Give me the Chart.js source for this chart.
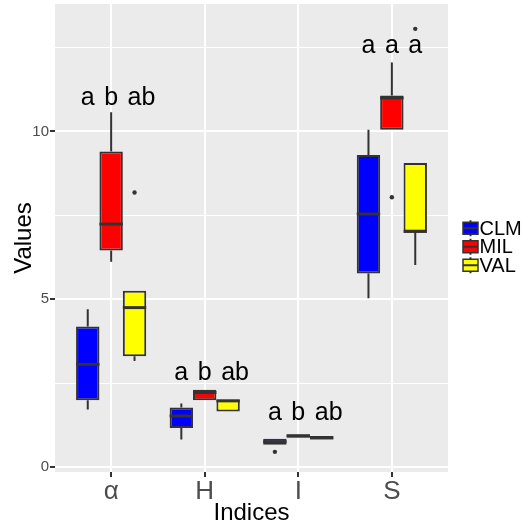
<!DOCTYPE html>
<html>
<head>
<meta charset="utf-8">
<script src="https://cdn.jsdelivr.net/npm/chart.js@4.4.1/dist/chart.umd.min.js"></script>
<style>
  html, body { margin: 0; padding: 0; background: #fff; }
  canvas { display: block; }
</style>
</head>
<body>
<canvas id="box-chart" width="522" height="525"></canvas>
<script>
var categories = ['α', 'H', 'I', 'S'];
var seriesNames = ['CLM', 'MIL', 'VAL'];
var seriesColors = ['#0000FF', '#FF0000', '#FFFF00'];

// five numbers per index: min, q1, median, q3, max
var clmStats = [[1.71, 1.99, 3.06, 4.19, 4.70], [0.82, 1.16, 1.52, 1.77, 1.89], [0.66, 0.66, 0.75, 0.84, 0.84], [5.03, 5.77, 7.54, 9.30, 10.05]];
var milStats = [[6.12, 6.45, 7.24, 9.40, 10.57], [1.99, 1.99, 2.22, 2.30, 2.30], [0.87, 0.87, 0.93, 0.97, 0.97], [10.05, 10.05, 11.00, 11.07, 12.06]];
var valStats = [[3.16, 3.30, 4.75, 5.25, 5.25], [1.65, 1.65, 1.97, 2.01, 2.01], [0.82, 0.82, 0.87, 0.92, 0.92], [6.02, 7.02, 7.02, 9.06, 9.06]];
var clmOutliers = [[], [], [0.45], []];
var milOutliers = [[], [], [], [8.04]];
var valOutliers = [[8.18], [], [], [13.06]];

// significance letters above each index
var letters = [['a', 'b', 'ab'], ['a', 'b', 'ab'], ['a', 'b', 'ab'], ['a', 'a', 'a']];
var letterY = [10.78, 2.59, 1.39, 12.34];

var yTicks = [0, 5, 10];
var yMinorTicks = [2.5, 7.5, 12.5];

var allStats = [clmStats, milStats, valStats];
var allOutliers = [clmOutliers, milOutliers, valOutliers];

Chart.defaults.font.family = '"Liberation Sans", Arial, sans-serif';

function boxData(stats) {
  return stats.map(function(s, i) {
    return { x: i + 1, y: [s[1], s[3]] };
  });
}

var boxParts = {
  id: 'boxParts',
  beforeDraw: function(chart) {
    var a = chart.chartArea;
    var ctx = chart.ctx;
    ctx.save();
    ctx.fillStyle = '#EBEBEB';
    ctx.fillRect(a.left, a.top, a.right - a.left, a.bottom - a.top);
    ctx.restore();
  },
  afterDatasetsDraw: function(chart) {
    var ctx = chart.ctx;
    var y = chart.scales.y;
    ctx.save();
    ctx.strokeStyle = '#333333';
    ctx.font = '25px "Liberation Sans", Arial, sans-serif';
    ctx.textAlign = 'left';
    ctx.textBaseline = 'alphabetic';
    for (var k = 0; k < allStats.length; k++) {
      var meta = chart.getDatasetMeta(k);
      for (var j = 0; j < meta.data.length; j++) {
        var bar = meta.data[j];
        var s = allStats[k][j];
        var half = bar.width / 2;
        ctx.fillStyle = '#333333';
        // whiskers
        ctx.lineWidth = 2;
        ctx.beginPath();
        ctx.moveTo(bar.x, y.getPixelForValue(s[3]));
        ctx.lineTo(bar.x, y.getPixelForValue(s[4]));
        ctx.moveTo(bar.x, y.getPixelForValue(s[1]));
        ctx.lineTo(bar.x, y.getPixelForValue(s[0]));
        ctx.stroke();
        // median
        ctx.lineWidth = 3;
        ctx.beginPath();
        ctx.moveTo(bar.x - half, y.getPixelForValue(s[2]));
        ctx.lineTo(bar.x + half, y.getPixelForValue(s[2]));
        ctx.stroke();
        // outliers
        var outs = allOutliers[k][j];
        for (var o = 0; o < outs.length; o++) {
          ctx.beginPath();
          ctx.arc(bar.x, y.getPixelForValue(outs[o]), 2.2, 0, Math.PI * 2);
          ctx.fill();
        }
        // letters, first glyph centred on the box
        var txt = letters[j][k];
        var firstW = ctx.measureText(txt.charAt(0)).width;
        ctx.fillStyle = '#000';
        ctx.fillText(txt, bar.x - firstW / 2, y.getPixelForValue(letterY[j]));
      }
    }
    ctx.restore();
  },
  afterDraw: function(chart) {
    // legend with boxplot keys
    var ctx = chart.ctx;
    var left = chart.chartArea.right + 15;
    var top = 219;
    var rowH = 18.5;
    ctx.save();
    chart.data.datasets.forEach(function(ds, i) {
      var cy = top + i * rowH + rowH / 2;
      var cx = left + 7.5;
      ctx.strokeStyle = '#333333';
      ctx.lineWidth = 2;
      ctx.beginPath();
      ctx.moveTo(cx, cy - 8);
      ctx.lineTo(cx, cy + 8);
      ctx.stroke();
      ctx.fillStyle = ds.backgroundColor;
      ctx.fillRect(left, cy - 6, 15, 12);
      ctx.lineWidth = 1.5;
      ctx.strokeRect(left, cy - 6, 15, 12);
      ctx.lineWidth = 2;
      ctx.beginPath();
      ctx.moveTo(left, cy);
      ctx.lineTo(left + 15, cy);
      ctx.stroke();
      ctx.fillStyle = '#000';
      ctx.font = '20px "Liberation Sans", Arial, sans-serif';
      ctx.textAlign = 'left';
      ctx.textBaseline = 'middle';
      ctx.fillText(ds.label, left + 16.5, cy + 1);
    });
    ctx.restore();
  }
};

var datasets = seriesNames.map(function(name, i) {
  return {
    label: name,
    data: boxData(allStats[i]),
    backgroundColor: seriesColors[i],
    borderColor: '#333333',
    borderWidth: 2,
    borderSkipped: false
  };
});

var chartEl = document.getElementById('box-chart');
var myChart = new Chart(chartEl, {
  type: 'bar',
  data: { datasets: datasets },
  plugins: [boxParts],
  options: {
    responsive: false,
    animation: false,
    events: [],
    categoryPercentage: 0.75,
    barPercentage: 1,
    layout: { padding: { top: 4, right: 74, left: 0, bottom: 0 } },
    plugins: {
      legend: { display: false },
      tooltip: { enabled: false }
    },
    scales: {
      x: {
        type: 'linear',
        min: 0.4,
        max: 4.6,
        offset: false,
        afterBuildTicks: function(axis) {
          axis.ticks = categories.map(function(c, i) { return { value: i + 1 }; });
        },
        afterFit: function(axis) {
          axis.height = 53;
          axis.paddingLeft = 0;
          axis.paddingRight = 0;
        },
        border: { display: false },
        grid: {
          offset: false,
          color: '#FFFFFF',
          lineWidth: 2,
          tickColor: '#333333',
          tickWidth: 2,
          tickLength: 5
        },
        ticks: {
          color: '#4D4D4D',
          font: { size: 26, lineHeight: 1 },
          padding: 1.5,
          maxRotation: 0,
          autoSkip: false,
          callback: function(value) { return categories[value - 1]; }
        },
        title: {
          display: true,
          text: 'Indices',
          color: '#000',
          font: { size: 24, lineHeight: 1 },
          padding: { top: 0, bottom: 0 }
        }
      },
      y: {
        min: -0.15,
        max: 13.8,
        afterBuildTicks: function(axis) {
          axis.ticks = yTicks.concat(yMinorTicks).sort(function(a, b) { return a - b; })
            .map(function(v) { return { value: v }; });
        },
        afterFit: function(axis) {
          axis.width = 55;
          axis.paddingTop = 0;
          axis.paddingBottom = 0;
        },
        border: { display: false },
        grid: {
          color: '#FFFFFF',
          lineWidth: function(c) { return yTicks.indexOf(c.tick.value) >= 0 ? 2 : 1; },
          tickColor: function(c) { return yTicks.indexOf(c.tick.value) >= 0 ? '#333333' : 'rgba(0,0,0,0)'; },
          tickWidth: 2,
          tickLength: 5
        },
        ticks: {
          color: '#4D4D4D',
          font: { size: 15 },
          padding: 1,
          autoSkip: false,
          callback: function(value) { return yTicks.indexOf(value) >= 0 ? String(value) : ''; }
        },
        title: {
          display: true,
          text: 'Values',
          color: '#000',
          font: { size: 24, lineHeight: 1.2 },
          padding: { top: 10, bottom: 0 }
        }
      }
    }
  }
});
</script>
</body>
</html>
